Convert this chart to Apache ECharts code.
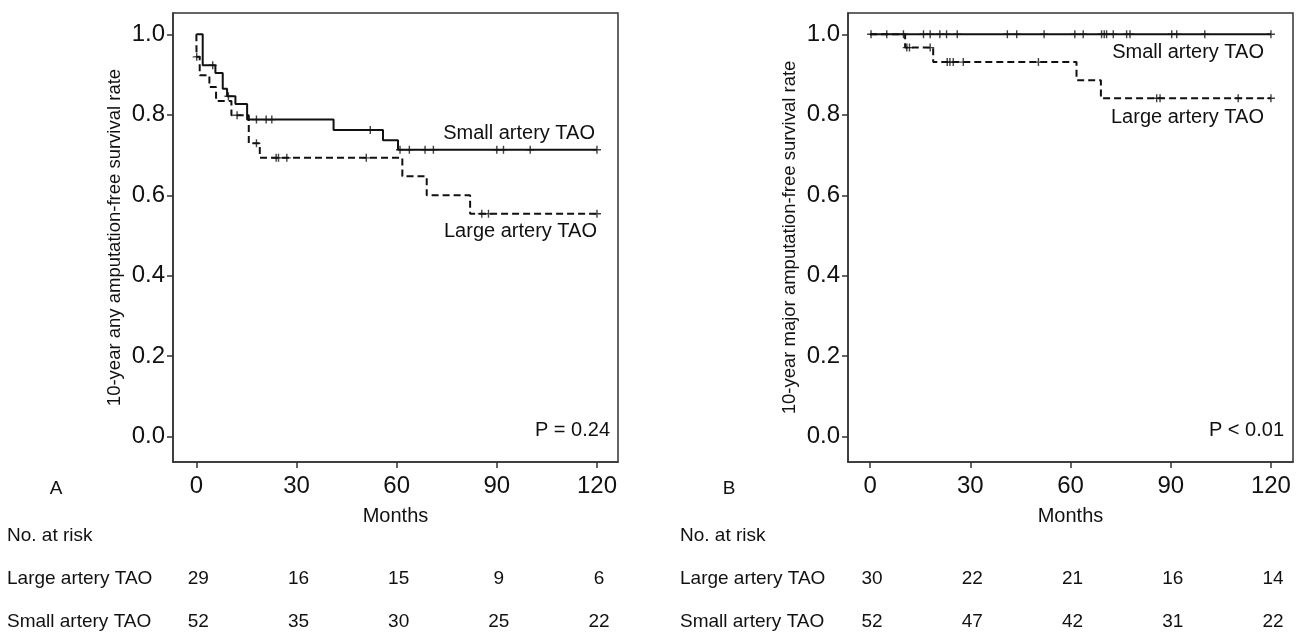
<!DOCTYPE html>
<html>
<head>
<meta charset="utf-8">
<script src="https://cdn.jsdelivr.net/npm/echarts@6/dist/echarts.min.js"></script>
<style>
html,body{margin:0;padding:0;background:#fff;}
#c{width:1305px;height:633px;}
</style>
</head>
<body>
<div id="c"></div>
<script>
// ---- data ----
const xTicks = [0, 30, 60, 90, 120];
const yTicks = [0, 0.2, 0.4, 0.6, 0.8, 1.0];
const groups = ['Large artery TAO', 'Small artery TAO'];

// Panel A: any amputation-free survival (KM step points [month, survival])
const aSmallSteps = [[0,1],[1.9,0.923],[5.7,0.904],[7.9,0.865],[9.2,0.846],[11.7,0.827],[15.2,0.788],[41.1,0.762],[55.9,0.737],[60.4,0.713],[120,0.713]];
const aSmallCensor = [4.9, 9.6, 18.0, 20.9, 22.6, 52.1, 61.0, 63.8, 68.5, 71.0, 90.0, 92.0, 100.0, 120];
const aLargeSteps = [[0,1],[0.05,0.944],[1.0,0.898],[3.9,0.869],[5.9,0.834],[10.5,0.799],[15.7,0.729],[19.0,0.693],[61.7,0.647],[69.0,0.600],[82.0,0.554],[120,0.554]];
const aLargeCensor = [0.1, 12.2, 18.0, 23.9, 24.6, 27.1, 50.9, 85.5, 87.5, 120];
const aRiskLarge = [29, 16, 15, 9, 6];
const aRiskSmall = [52, 35, 30, 25, 22];

// Panel B: major amputation-free survival
const bSmallSteps = [[0,1],[120,1]];
const bSmallCensor = [0.3,5.0,10.0,16.0,18.0,20.9,22.9,26.1,41.1,43.9,52.1,61.3,63.8,69.3,70.1,70.8,72.8,76.8,77.8,90.3,91.8,100.2,120];
const bLargeSteps = [[0,1],[10.5,0.967],[18.9,0.931],[61.8,0.886],[69.1,0.841],[120,0.841]];
const bLargeCensor = [11.0,11.8,18.0,23.1,23.9,24.9,27.9,50.4,85.8,86.8,110.2,120];
const bRiskLarge = [30, 22, 21, 16, 14];
const bRiskSmall = [52, 47, 42, 31, 22];

// ---- helpers ----
const FONT = '"Liberation Sans", Arial, sans-serif';
const INK = '#111';
function survAt(steps, t){ let v = steps[0][1]; for (const s of steps){ if (s[0] <= t) v = s[1]; } return v; }
function censorPts(steps, times){ return times.map(t => [t, survAt(steps, t)]); }
const PLUS = 'path://M3.3,0H4.7V3.3H8V4.7H4.7V8H3.3V4.7H0V3.3H3.3Z';

function xAxisCfg(gi, min, max){
  return {
    type:'value', gridIndex:gi, min:min, max:max, position:'bottom',
    name:'Months', nameLocation:'middle', nameGap:44,
    nameTextStyle:{fontSize:20, color:INK, fontFamily:FONT},
    axisLine:{show:true, onZero:false, lineStyle:{color:'#333', width:1.5}}, splitLine:{show:false},
    axisTick:{show:true, inside:false, length:6, customValues:xTicks, lineStyle:{color:'#333', width:1.5}},
    axisLabel:{customValues:xTicks, fontSize:24, color:INK, fontFamily:FONT, margin:12}
  };
}
function yAxisCfg(gi, name){
  return {
    type:'value', gridIndex:gi, min:-0.063, max:1.053, position:'left',
    name:name, nameLocation:'middle', nameGap:49,
    nameTextStyle:{fontSize:18.5, color:INK, fontFamily:FONT},
    axisLine:{show:true, onZero:false, lineStyle:{color:'#333', width:1.5}}, splitLine:{show:false},
    axisTick:{show:true, inside:false, length:6, customValues:yTicks, lineStyle:{color:'#333', width:1.5}},
    axisLabel:{customValues:yTicks, fontSize:24, color:INK, fontFamily:FONT, margin:8,
      formatter:v => v.toFixed(1)}
  };
}
function lineS(gi, data, dashed){
  return {type:'line', xAxisIndex:gi, yAxisIndex:gi, step:'end', data:data, symbol:'none',
    lineStyle:{color:INK, width:2, type: dashed ? [7,4] : 'solid'}, silent:true, animation:false};
}
function censS(gi, data){
  return {type:'scatter', xAxisIndex:gi, yAxisIndex:gi, data:data, symbol:PLUS, symbolSize:8,
    itemStyle:{color:INK}, silent:true, animation:false, z:3};
}

const chart = echarts.init(document.getElementById('c'), null, {renderer:'canvas'});
chart.setOption({
  animation:false,
  backgroundColor:'#fff',
  grid:[
    {left:173, top:13, width:445, height:449, show:true, borderColor:'#333', borderWidth:1.5, backgroundColor:'transparent'},
    {left:848, top:13, width:445, height:449, show:true, borderColor:'#333', borderWidth:1.5, backgroundColor:'transparent'}
  ],
  xAxis:[ xAxisCfg(0, -7.0, 126.3), xAxisCfg(1, -6.6, 126.6) ],
  yAxis:[ yAxisCfg(0, '10-year any amputation-free survival rate'),
          yAxisCfg(1, '10-year major amputation-free survival rate') ],
  series:[
    lineS(0, aSmallSteps, false), lineS(0, aLargeSteps, true),
    censS(0, censorPts(aSmallSteps, aSmallCensor)), censS(0, censorPts(aLargeSteps, aLargeCensor)),
    lineS(1, bSmallSteps, false), lineS(1, bLargeSteps, true),
    censS(1, censorPts(bSmallSteps, bSmallCensor)), censS(1, censorPts(bLargeSteps, bLargeCensor))
  ]
});

function txt(text, x, y, size, align){
  return {type:'text', x:x, y:y, silent:true,
    style:{text:text, fontSize:size, fontFamily:FONT, fill:INK, align:align||'left', verticalAlign:'middle'}};
}
const g = [];
// curve labels and p-values
g.push(txt('Small artery TAO', 595, 133, 20, 'right'));
g.push(txt('Large artery TAO', 597, 231, 20, 'right'));
g.push(txt('P = 0.24', 610, 430, 20, 'right'));
g.push(txt('Small artery TAO', 1264, 52, 20, 'right'));
g.push(txt('Large artery TAO', 1264, 117, 20, 'right'));
g.push(txt('P < 0.01', 1284, 430, 20, 'right'));
// panel letters
g.push(txt('A', 56, 489, 19, 'center'));
g.push(txt('B', 729, 489, 19, 'center'));
// risk tables
const tables = [
  {gi:0, x0:7, large:aRiskLarge, small:aRiskSmall},
  {gi:1, x0:680, large:bRiskLarge, small:bRiskSmall}
];
const rowY = [579, 622];
tables.forEach(tb => {
  g.push(txt('No. at risk', tb.x0, 536, 19, 'left'));
  g.push(txt(groups[0], tb.x0, rowY[0], 19, 'left'));
  g.push(txt(groups[1], tb.x0, rowY[1], 19, 'left'));
  xTicks.forEach((t, i) => {
    const px = chart.convertToPixel({xAxisIndex:tb.gi}, t);
    g.push(txt(String(tb.large[i]), px + 2, rowY[0], 19, 'center'));
    g.push(txt(String(tb.small[i]), px + 2, rowY[1], 19, 'center'));
  });
});
chart.setOption({graphic:g});
</script>
</body>
</html>
